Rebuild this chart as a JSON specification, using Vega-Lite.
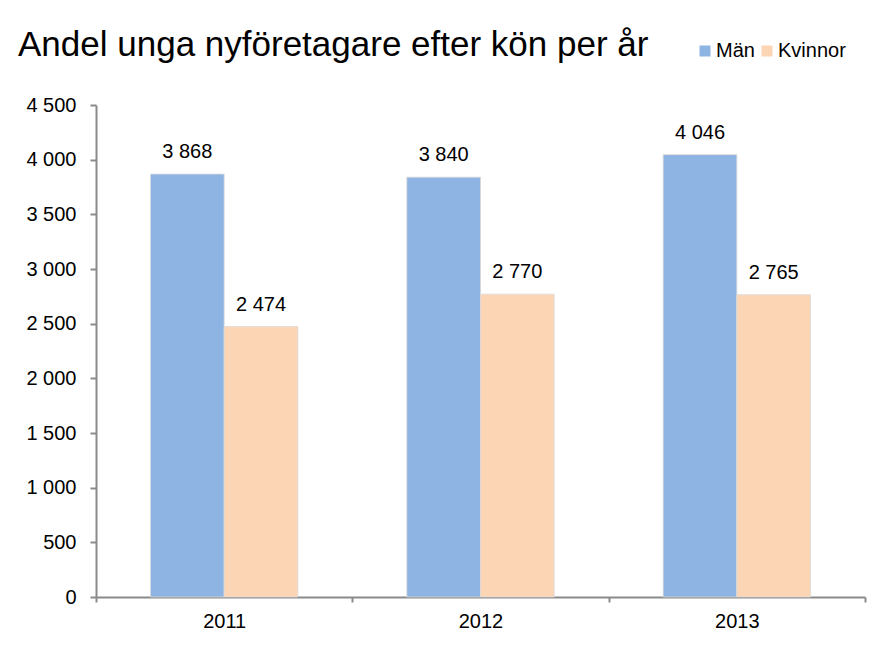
{
  "$schema": "https://vega.github.io/schema/vega-lite/v6.json",
  "autosize": "none",
  "width": 769,
  "height": 492,
  "padding": {"left": 96, "top": 105, "right": 8, "bottom": 57},
  "background": "white",
  "title": {
    "text": "Andel unga nyföretagare efter kön per år",
    "anchor": "start",
    "frame": "group",
    "dx": -78,
    "offset": -50,
    "baseline": "alphabetic",
    "font": "Liberation Sans",
    "fontSize": 35,
    "fontWeight": "normal",
    "color": "#000000"
  },
  "data": {
    "values": [
      {"year": "2011", "gender": "Män", "value": 3868},
      {"year": "2011", "gender": "Kvinnor", "value": 2474},
      {"year": "2012", "gender": "Män", "value": 3840},
      {"year": "2012", "gender": "Kvinnor", "value": 2770},
      {"year": "2013", "gender": "Män", "value": 4046},
      {"year": "2013", "gender": "Kvinnor", "value": 2765}
    ]
  },
  "encoding": {
    "x": {
      "field": "year",
      "type": "nominal",
      "scale": {"paddingInner": 0, "paddingOuter": 0},
      "axis": {
        "title": null,
        "labelAngle": 0,
        "tickBand": "extent",
        "domainColor": "#8a8a8a",
        "domainWidth": 2,
        "tickColor": "#8a8a8a",
        "tickWidth": 2,
        "tickSize": 5,
        "labelFont": "Liberation Sans",
        "labelFontSize": 20,
        "labelColor": "#000000",
        "labelPadding": 9
      }
    },
    "xOffset": {
      "field": "gender",
      "type": "nominal",
      "sort": ["Män", "Kvinnor"],
      "scale": {"paddingInner": 0, "paddingOuter": 0.74}
    },
    "y": {
      "field": "value",
      "type": "quantitative",
      "scale": {"domain": [0, 4500], "nice": false},
      "axis": {
        "title": null,
        "values": [0, 500, 1000, 1500, 2000, 2500, 3000, 3500, 4000, 4500],
        "format": ",d",
        "grid": false,
        "domainColor": "#8a8a8a",
        "domainWidth": 2,
        "tickColor": "#8a8a8a",
        "tickWidth": 2,
        "tickSize": 6,
        "labelFont": "Liberation Sans",
        "labelFontSize": 20,
        "labelColor": "#000000",
        "labelPadding": 14
      }
    }
  },
  "layer": [
    {
      "mark": {"type": "bar", "stroke": "#d9d9d9", "strokeWidth": 0.8},
      "encoding": {
        "color": {
          "field": "gender",
          "type": "nominal",
          "sort": ["Män", "Kvinnor"],
          "scale": {"domain": ["Män", "Kvinnor"], "range": ["#8EB4E3", "#FCD5B5"]},
          "legend": {
            "title": null,
            "orient": "none",
            "legendX": 599,
            "legendY": -64,
            "direction": "horizontal",
            "symbolType": "square",
            "symbolSize": 121,
            "symbolStrokeWidth": 0,
            "labelFont": "Liberation Sans",
            "labelFontSize": 20,
            "labelColor": "#000000",
            "labelOffset": 1,
            "columnPadding": 2,
            "padding": 0
          }
        }
      }
    },
    {
      "mark": {
        "type": "text",
        "baseline": "alphabetic",
        "dy": -16,
        "font": "Liberation Sans",
        "fontSize": 20,
        "color": "#000000"
      },
      "encoding": {
        "text": {"field": "value", "type": "quantitative", "format": ",d"}
      }
    }
  ],
  "config": {
    "view": {"stroke": null},
    "locale": {
      "number": {"decimal": ",", "thousands": "\u00a0", "grouping": [3], "currency": ["", " kr"]}
    }
  }
}
